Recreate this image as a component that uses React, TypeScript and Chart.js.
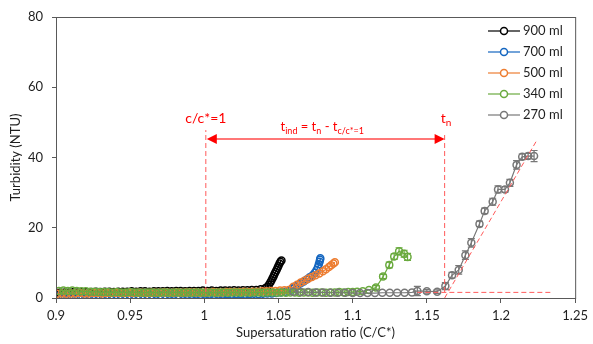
import { useEffect, useRef } from "react";
import { Chart, registerables } from "chart.js";

Chart.register(...registerables);

// ---- data -------------------------------------------------------------
const seriesNames = ["900 ml", "700 ml", "500 ml", "340 ml", "270 ml"];
const seriesColors = ["#000000", "#1466C0", "#ED7D31", "#6AAA3E", "#777777"];

// 900 ml
const x900Flat = [
  0.9, 0.903, 0.906, 0.909, 0.912, 0.915, 0.918, 0.921, 0.924, 0.927,
  0.93, 0.933, 0.936, 0.939, 0.942, 0.945, 0.948, 0.951, 0.954, 0.957,
  0.96, 0.963, 0.966, 0.969, 0.972, 0.975, 0.978, 0.981, 0.984, 0.987,
  0.99, 0.993, 0.996, 0.999, 1.002, 1.005, 1.008, 1.011, 1.014, 1.017,
  1.02, 1.023, 1.026, 1.029, 1.032, 1.035, 1.038, 1.041,
];
const y900Flat = [
  1.5, 1.6, 1.6, 1.6, 1.7, 1.6, 1.7, 1.7, 1.7, 1.8,
  1.7, 1.8, 1.8, 1.7, 1.8, 1.8, 1.8, 1.9, 1.8, 1.9,
  1.9, 1.8, 1.9, 1.9, 1.9, 2.0, 1.9, 2.0, 2.0, 1.9,
  2.0, 2.0, 2.0, 2.1, 2.0, 2.1, 2.0, 2.1, 2.1, 2.1,
  2.2, 2.1, 2.2, 2.2, 2.3, 2.3, 2.5, 2.8,
];
const x900Rise = [1.0425, 1.0435, 1.0445, 1.0452, 1.046, 1.0467, 1.0473, 1.048, 1.0487, 1.0494, 1.05, 1.0507, 1.0513, 1.052];
const y900Rise = [3.2, 3.8, 4.4, 5.0, 5.6, 6.2, 6.8, 7.4, 8.0, 8.6, 9.2, 9.8, 10.3, 10.7];

// 700 ml
const x700Flat = [
  0.9015, 0.9045, 0.9075, 0.9105, 0.9135, 0.9165, 0.9195, 0.9225, 0.9255, 0.9285,
  0.9315, 0.9345, 0.9375, 0.9405, 0.9435, 0.9465, 0.9495, 0.9525, 0.9555, 0.9585,
  0.9615, 0.9645, 0.9675, 0.9705, 0.9735, 0.9765, 0.9795, 0.9825, 0.9855, 0.9885,
  0.9915, 0.9945, 0.9975, 1.0005, 1.0035, 1.0065, 1.0095, 1.0125, 1.0155, 1.0185,
  1.0215, 1.0245, 1.0275, 1.0305, 1.0335, 1.0365, 1.0395, 1.0425, 1.0455, 1.0485,
  1.0515, 1.0545, 1.0575,
];
const y700Flat = [
  0.5, 0.6, 0.6, 0.5, 0.6, 0.6, 0.7, 0.6, 0.7, 0.7,
  0.6, 0.7, 0.7, 0.8, 0.7, 0.7, 0.8, 0.8, 0.7, 0.8,
  0.8, 0.8, 0.9, 0.8, 0.8, 0.9, 0.9, 0.8, 0.9, 0.9,
  0.9, 1.0, 0.9, 1.0, 1.0, 0.9, 1.0, 1.0, 1.1, 1.0,
  1.1, 1.1, 1.0, 1.1, 1.2, 1.1, 1.2, 1.3, 1.3, 1.4,
  1.6, 1.8, 2.1,
];
const x700Rise = [1.059, 1.061, 1.063, 1.065, 1.067, 1.069, 1.071, 1.073, 1.0745, 1.0757, 1.0766, 1.0772, 1.0777, 1.078, 1.0782];
const y700Rise = [2.6, 3.2, 3.7, 4.2, 4.7, 5.3, 5.9, 6.5, 7.2, 8.0, 8.8, 9.6, 10.3, 10.9, 11.3];

// 500 ml
const x500Flat = [
  0.901, 0.904, 0.907, 0.91, 0.913, 0.916, 0.919, 0.922, 0.925, 0.928,
  0.931, 0.934, 0.937, 0.94, 0.943, 0.946, 0.949, 0.952, 0.955, 0.958,
  0.961, 0.964, 0.967, 0.97, 0.973, 0.976, 0.979, 0.982, 0.985, 0.988,
  0.991, 0.994, 0.997, 1.0, 1.003, 1.006, 1.009, 1.012, 1.015, 1.018,
  1.021, 1.024, 1.027, 1.03, 1.033, 1.036, 1.039, 1.042, 1.045, 1.048,
  1.051, 1.054, 1.057,
];
const y500Flat = [
  1.2, 1.3, 1.2, 1.3, 1.3, 1.4, 1.3, 1.3, 1.4, 1.4,
  1.3, 1.4, 1.4, 1.5, 1.4, 1.4, 1.5, 1.4, 1.5, 1.5,
  1.4, 1.5, 1.5, 1.5, 1.6, 1.5, 1.5, 1.6, 1.5, 1.6,
  1.6, 1.6, 1.5, 1.6, 1.6, 1.7, 1.6, 1.6, 1.7, 1.7,
  1.7, 1.7, 1.8, 1.7, 1.8, 1.8, 1.9, 1.9, 2.0, 2.0,
  2.1, 2.2, 2.3,
];
const x500Rise = [1.06, 1.0625, 1.065, 1.0675, 1.07, 1.0725, 1.075, 1.0775, 1.08, 1.082, 1.084, 1.0855, 1.087, 1.088];
const y500Rise = [3.2, 3.8, 4.4, 4.9, 5.5, 6.0, 6.5, 7.0, 7.6, 8.2, 8.8, 9.3, 9.8, 10.2];

// 340 ml
const x340Flat = [
  0.902, 0.905, 0.908, 0.911, 0.914, 0.917, 0.92, 0.923, 0.926, 0.929,
  0.932, 0.935, 0.938, 0.941, 0.944, 0.947, 0.95, 0.953, 0.956, 0.959,
  0.962, 0.965, 0.968, 0.971, 0.974, 0.977, 0.98, 0.983, 0.986, 0.989,
  0.992, 0.995, 0.998, 1.001, 1.004, 1.007, 1.01, 1.013, 1.016, 1.019,
  1.022, 1.025, 1.028, 1.031, 1.034, 1.037, 1.04, 1.043, 1.046, 1.049,
  1.052, 1.055, 1.058, 1.061, 1.064, 1.067, 1.07, 1.073, 1.076, 1.079,
  1.082, 1.085, 1.088, 1.091, 1.094, 1.097, 1.1, 1.103,
];
const y340Flat = [
  2.0, 2.1, 2.0, 2.1, 2.0, 1.9, 1.9, 1.8, 1.8, 1.7,
  1.7, 1.7, 1.6, 1.7, 1.6, 1.6, 1.7, 1.6, 1.6, 1.5,
  1.6, 1.6, 1.5, 1.6, 1.6, 1.5, 1.6, 1.6, 1.5, 1.6,
  1.5, 1.6, 1.6, 1.5, 1.6, 1.5, 1.6, 1.6, 1.5, 1.6,
  1.6, 1.5, 1.6, 1.5, 1.6, 1.6, 1.5, 1.6, 1.6, 1.5,
  1.6, 1.5, 1.6, 1.6, 1.5, 1.6, 1.6, 1.5, 1.6, 1.6,
  1.5, 1.6, 1.6, 1.7, 1.6, 1.7, 1.7, 1.8,
];
const x340Rise = [1.1068, 1.111, 1.1157, 1.1205, 1.1247, 1.128, 1.1313, 1.1347, 1.137];
const y340Rise = [1.9, 2.3, 3.0, 6.1, 9.4, 11.8, 13.3, 12.6, 11.7];
const e340Rise = [0, 0, 0.5, 0.6, 0.8, 0.8, 1.0, 1.0, 1.0];

// 270 ml
const x270Flat = [
  1.06, 1.065, 1.07, 1.075, 1.08, 1.085, 1.09, 1.095, 1.1, 1.105, 1.11, 1.115, 1.12, 1.125,
  1.13, 1.135, 1.14,
];
const y270Flat = [1.8, 1.7, 1.7, 1.6, 1.6, 1.5, 1.5, 1.5, 1.4, 1.4, 1.4, 1.4, 1.5, 1.5, 1.5, 1.5, 1.6];
const x270Rise = [
  1.1436, 1.15, 1.157, 1.1625, 1.167, 1.1715, 1.176, 1.18, 1.1855, 1.189, 1.1944, 1.198,
  1.2027, 1.206, 1.2105, 1.2143, 1.2183, 1.2223,
];
const y270Rise = [2.0, 1.9, 1.8, 3.4, 6.5, 8.0, 12.2, 15.7, 21.1, 24.8, 27.4, 30.9, 30.9, 32.8, 37.9, 40.2, 40.4, 40.4];
const e270Rise = [1.3, 0.5, 0.5, 1.0, 0.8, 1.2, 1.2, 1.2, 0.8, 0.8, 1.0, 1.0, 0.8, 1.0, 1.2, 0.8, 0.8, 1.6];

const flatX = [x900Flat, x700Flat, x500Flat, x340Flat, x270Flat];
const flatY = [y900Flat, y700Flat, y500Flat, y340Flat, y270Flat];
const riseX = [x900Rise, x700Rise, x500Rise, x340Rise, x270Rise];
const riseY = [y900Rise, y700Rise, y500Rise, y340Rise, y270Rise];
const riseErr = [null, null, null, e340Rise, e270Rise];

const xTickValues = [0.9, 0.95, 1, 1.05, 1.1, 1.15, 1.2, 1.25];
const xTickLabels = ["0.9", "0.95", "1", "1.05", "1.1", "1.15", "1.2", "1.25"];
const yTickValues = [0, 20, 40, 60, 80];
const yTickLabels = ["0", "20", "40", "60", "80"];

// induction-time construction (data units)
const saturationX = 1.001;
const nucleationX = 1.162;
const arrowY = 45.3;
const saturationLineY = [1.7, 47.8];
const nucleationLineY = [1.7, 46.7];
const baselineX = [1.1436, 1.234];
const baselineY = 1.6;
const tangentX = [1.162, 1.2243];
const tangentY = [0, 45.0];

const FONT = "Lato, 'Open Sans', sans-serif";
const RED = "#ff0000";
const RED_DASH = "#ff5a5a";
const AXIS = "#595959";
const TEXT = "#1f1f1f";

type Part = { t: string; sub?: boolean };

function richWidth(ctx: CanvasRenderingContext2D, parts: Part[], size: number, subSize: number) {
  let w = 0;
  for (const p of parts) {
    ctx.font = `${p.sub ? subSize : size}px ${FONT}`;
    w += ctx.measureText(p.t).width;
  }
  return w;
}

function drawRich(
  ctx: CanvasRenderingContext2D,
  parts: Part[],
  x: number,
  y: number,
  size: number,
  subSize: number,
) {
  let cx = x;
  ctx.textAlign = "left";
  ctx.textBaseline = "alphabetic";
  for (const p of parts) {
    ctx.font = `${p.sub ? subSize : size}px ${FONT}`;
    ctx.fillText(p.t, cx, p.sub ? y + 3 : y);
    cx += ctx.measureText(p.t).width;
  }
}

const errorBarPlugin = {
  id: "errorBars",
  afterDatasetsDraw(chart: any) {
    const ctx: CanvasRenderingContext2D = chart.ctx;
    const xs = chart.scales.x;
    const ys = chart.scales.y;
    chart.data.datasets.forEach((ds: any) => {
      ctx.save();
      ctx.strokeStyle = ds.borderColor;
      ctx.lineWidth = 1.2;
      ds.data.forEach((p: any) => {
        if (!p.e) return;
        const px = xs.getPixelForValue(p.x);
        const y1 = ys.getPixelForValue(p.y + p.e);
        const y2 = ys.getPixelForValue(p.y - p.e);
        ctx.beginPath();
        ctx.moveTo(px, y1);
        ctx.lineTo(px, y2);
        ctx.moveTo(px - 3.5, y1);
        ctx.lineTo(px + 3.5, y1);
        ctx.moveTo(px - 3.5, y2);
        ctx.lineTo(px + 3.5, y2);
        ctx.stroke();
      });
      ctx.restore();
    });
  },
};

const annotationPlugin = {
  id: "inductionAnnotations",
  afterDraw(chart: any) {
    const ctx: CanvasRenderingContext2D = chart.ctx;
    const xs = chart.scales.x;
    const ys = chart.scales.y;
    const area = chart.chartArea;
    ctx.save();

    // frame around the plot area
    ctx.strokeStyle = AXIS;
    ctx.lineWidth = 1;
    ctx.strokeRect(area.left + 0.5, area.top + 0.5, area.right - area.left, area.bottom - area.top);

    const sx = xs.getPixelForValue(saturationX);
    const nx = xs.getPixelForValue(nucleationX);
    const ay = ys.getPixelForValue(arrowY);

    // dashed guide lines
    ctx.strokeStyle = RED_DASH;
    ctx.lineWidth = 1;
    ctx.setLineDash([5, 3]);
    ctx.beginPath();
    ctx.moveTo(sx, ys.getPixelForValue(saturationLineY[0]));
    ctx.lineTo(sx, ys.getPixelForValue(saturationLineY[1]));
    ctx.moveTo(nx, ys.getPixelForValue(nucleationLineY[0]));
    ctx.lineTo(nx, ys.getPixelForValue(nucleationLineY[1]));
    ctx.moveTo(xs.getPixelForValue(baselineX[0]), ys.getPixelForValue(baselineY));
    ctx.lineTo(xs.getPixelForValue(baselineX[1]), ys.getPixelForValue(baselineY));
    ctx.moveTo(xs.getPixelForValue(tangentX[0]), ys.getPixelForValue(tangentY[0]));
    ctx.lineTo(xs.getPixelForValue(tangentX[1]), ys.getPixelForValue(tangentY[1]));
    ctx.stroke();
    ctx.setLineDash([]);

    // double-headed arrow
    const ax0 = sx + 1;
    const ax1 = nx;
    ctx.strokeStyle = "#ff4a4a";
    ctx.lineWidth = 1.5;
    ctx.beginPath();
    ctx.moveTo(ax0 + 8, ay);
    ctx.lineTo(ax1 - 8, ay);
    ctx.stroke();
    ctx.fillStyle = RED;
    ctx.beginPath();
    ctx.moveTo(ax0, ay);
    ctx.lineTo(ax0 + 10, ay - 5);
    ctx.lineTo(ax0 + 10, ay + 5);
    ctx.closePath();
    ctx.fill();
    ctx.beginPath();
    ctx.moveTo(ax1, ay);
    ctx.lineTo(ax1 - 10, ay - 5);
    ctx.lineTo(ax1 - 10, ay + 5);
    ctx.closePath();
    ctx.fill();

    // labels
    ctx.fillStyle = RED;
    ctx.font = `14px ${FONT}`;
    ctx.textAlign = "center";
    ctx.textBaseline = "alphabetic";
    ctx.fillText("c/c*=1", sx, ay - 16);

    const tn: Part[] = [{ t: "t" }, { t: "n", sub: true }];
    drawRich(ctx, tn, nx - 4, ay - 16, 14, 10);

    const tind: Part[] = [
      { t: "t" },
      { t: "ind", sub: true },
      { t: " = t" },
      { t: "n", sub: true },
      { t: " - t" },
      { t: "c/c*=1", sub: true },
    ];
    const w = richWidth(ctx, tind, 13, 9);
    drawRich(ctx, tind, (sx + nx) / 2 - w / 2 - 3, ay - 8, 13, 9);

    // axis titles
    ctx.fillStyle = TEXT;
    ctx.font = `13px ${FONT}`;
    ctx.textAlign = "center";
    ctx.textBaseline = "middle";
    ctx.fillText("Supersaturation ratio (C/C*)", (area.left + area.right) / 2, 333);
    ctx.translate(16, (area.top + area.bottom) / 2);
    ctx.rotate(-Math.PI / 2);
    ctx.fillText("Turbidity (NTU)", 0, 0);
    ctx.restore();

    // legend
    ctx.save();
    const lx0 = 488;
    const lx1 = 520;
    const ly0 = 31;
    const step = 21;
    seriesNames.forEach((name, i) => {
      const y = ly0 + i * step;
      ctx.strokeStyle = seriesColors[i];
      ctx.lineWidth = 1.2;
      ctx.beginPath();
      ctx.moveTo(lx0, y);
      ctx.lineTo(lx1, y);
      ctx.stroke();
      ctx.fillStyle = "#ffffff";
      ctx.lineWidth = 1.5;
      ctx.beginPath();
      ctx.arc((lx0 + lx1) / 2, y, 3.5, 0, Math.PI * 2);
      ctx.fill();
      ctx.stroke();
      ctx.fillStyle = TEXT;
      ctx.font = `13px ${FONT}`;
      ctx.textAlign = "left";
      ctx.textBaseline = "middle";
      ctx.fillText(name, lx1 + 3, y);
    });
    ctx.restore();
  },
};

export default function App() {
  const canvasRef = useRef<HTMLCanvasElement | null>(null);

  useEffect(() => {
    const canvas = canvasRef.current;
    if (!canvas) return;

    const datasets = seriesNames.map((name, i) => {
      const errs = riseErr[i];
      const points = [
        ...flatX[i].map((x, j) => ({ x, y: flatY[i][j], e: 0 })),
        ...riseX[i].map((x, j) => ({ x, y: riseY[i][j], e: errs ? errs[j] : 0 })),
      ];
      return {
        label: name,
        data: points,
        // later series are painted over earlier ones
        order: seriesNames.length - i,
        borderColor: seriesColors[i],
        backgroundColor: "rgba(0,0,0,0)",
        borderWidth: 1.2,
        pointRadius: 3.5,
        pointBorderWidth: 1.5,
        pointBackgroundColor: "rgba(255,255,255,0)",
        pointBorderColor: seriesColors[i],
        showLine: true,
        tension: 0,
      };
    });

    const chart = new Chart(canvas, {
      type: "line",
      data: { datasets },
      plugins: [errorBarPlugin, annotationPlugin],
      options: {
        animation: false,
        responsive: false,
        maintainAspectRatio: false,
        layout: { padding: { left: 0, top: 17, right: 14, bottom: 0 } },
        plugins: {
          legend: { display: false },
          tooltip: { enabled: false },
        },
        scales: {
          x: {
            type: "linear",
            min: 0.9,
            max: 1.25,
            afterBuildTicks: (scale: any) => {
              scale.ticks = xTickValues.map((v) => ({ value: v }));
            },
            afterFit: (scale: any) => {
              scale.height = 46;
            },
            ticks: {
              callback: (_v: any, i: number) => xTickLabels[i],
              font: { family: FONT, size: 13 },
              color: TEXT,
              padding: 5,
              maxRotation: 0,
            },
            grid: { drawOnChartArea: false, drawTicks: true, tickLength: 5, color: AXIS },
            border: { color: AXIS },
          },
          y: {
            type: "linear",
            min: 0,
            max: 80,
            afterBuildTicks: (scale: any) => {
              scale.ticks = yTickValues.map((v) => ({ value: v }));
            },
            afterFit: (scale: any) => {
              scale.width = 56;
            },
            ticks: {
              callback: (_v: any, i: number) => yTickLabels[i],
              font: { family: FONT, size: 13 },
              color: TEXT,
              padding: 9,
            },
            grid: { drawOnChartArea: false, drawTicks: true, tickLength: 4, color: AXIS },
            border: { color: AXIS },
          },
        },
      },
    });

    return () => chart.destroy();
  }, []);

  return (
    <div style={{ position: "absolute", left: 0, top: 0, width: 593, height: 344, background: "#fff" }}>
      <canvas ref={canvasRef} width={593} height={344} style={{ display: "block" }} />
    </div>
  );
}
